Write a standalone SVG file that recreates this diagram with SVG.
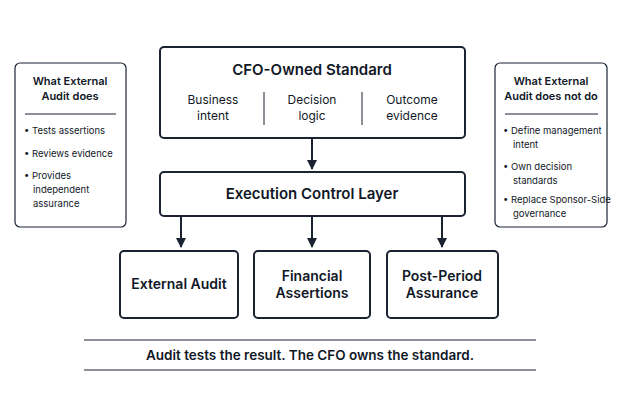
<svg xmlns="http://www.w3.org/2000/svg" width="624" height="416" viewBox="0 0 624 416">
<style>
.b{fill:#fff;stroke:#1b2333;stroke-width:2}
.s{fill:#fff;stroke:#1b2333;stroke-width:1.2}
text{font-family:Inter,"Liberation Sans",sans-serif;fill:#111827;text-anchor:middle}
.h{font-size:15px;font-weight:600}
.m{font-size:12px}
.sh{font-size:11px;font-weight:600}
.sm{font-size:9.5px;text-anchor:start}
.c{stroke:#1b2333;stroke-width:2;fill:none}
</style>
<defs><marker id="a" viewBox="0 0 10 10" refX="9" refY="5" markerWidth="5" markerHeight="5" orient="auto"><path d="M0,0L10,5L0,10z" fill="#1b2333"/></marker></defs>
<rect width="624" height="416" fill="#fff"/>
<g id="left"><rect class="s" x="15" y="63" width="111" height="164" rx="5"/>
<text class="sh" x="70" y="85">What External</text><text class="sh" x="70" y="100">Audit does</text>
<line x1="25" y1="114" x2="116" y2="114" stroke="#1b2333" stroke-width="1"/>
<text class="sm" x="24" y="134">•  Tests assertions</text><text class="sm" x="24" y="157">•  Reviews evidence</text>
<text class="sm" x="24" y="179">•  Provides</text><text class="sm" x="33" y="193">independent</text><text class="sm" x="33" y="207">assurance</text></g>
<g id="right"><rect class="s" x="495" y="63" width="112" height="164" rx="5"/>
<text class="sh" x="551" y="85">What External</text><text class="sh" x="551" y="100">Audit does not do</text>
<line x1="505" y1="114" x2="598" y2="114" stroke="#1b2333" stroke-width="1"/>
<text class="sm" x="503" y="134">•  Define management</text><text class="sm" x="513" y="148">intent</text>
<text class="sm" x="503" y="170">•  Own decision</text><text class="sm" x="513" y="184">standards</text>
<text class="sm" x="503" y="203">•  Replace Sponsor-Side</text><text class="sm" x="513" y="217">governance</text></g>
<g id="cfo"><rect class="b" x="160" y="47" width="305" height="91" rx="4"/>
<text class="h" x="312" y="75">CFO-Owned Standard</text>
<text class="m" x="213" y="104">Business</text><text class="m" x="213" y="120">intent</text>
<text class="m" x="312" y="104">Decision</text><text class="m" x="312" y="120">logic</text>
<text class="m" x="412" y="104">Outcome</text><text class="m" x="412" y="120">evidence</text>
<line x1="264" y1="92" x2="264" y2="125" stroke="#1b2333"/><line x1="362" y1="92" x2="362" y2="125" stroke="#1b2333"/></g>
<g id="ecl"><rect class="b" x="160" y="172" width="305" height="44" rx="4"/><text class="h" x="312" y="199">Execution Control Layer</text></g>
<g id="ea"><rect class="b" x="120" y="251" width="118" height="67" rx="4"/><text class="h" x="179" y="289" style="font-size:14px">External Audit</text></g>
<g id="fa"><rect class="b" x="254" y="251" width="116" height="67" rx="4"/><text class="h" x="312" y="281" style="font-size:14px">Financial</text><text class="h" x="312" y="298" style="font-size:14px">Assertions</text></g>
<g id="pa"><rect class="b" x="387" y="251" width="111" height="67" rx="4"/><text class="h" x="442" y="281" style="font-size:14px">Post-Period</text><text class="h" x="442" y="298" style="font-size:14px">Assurance</text></g>
<g id="connectors">
<line class="c" x1="312" y1="138" x2="312" y2="169" marker-end="url(#a)"/>
<line class="c" x1="181" y1="216" x2="181" y2="247" marker-end="url(#a)"/>
<line class="c" x1="312" y1="216" x2="312" y2="247" marker-end="url(#a)"/>
<line class="c" x1="442" y1="216" x2="442" y2="247" marker-end="url(#a)"/>
</g>
<line x1="84" y1="340" x2="536" y2="340" stroke="#1b2333" stroke-width="1"/>
<line x1="84" y1="370" x2="536" y2="370" stroke="#1b2333" stroke-width="1"/>
<text x="310" y="360" style="font-size:13.5px;font-weight:600">Audit tests the result. The CFO owns the standard.</text>
</svg>
